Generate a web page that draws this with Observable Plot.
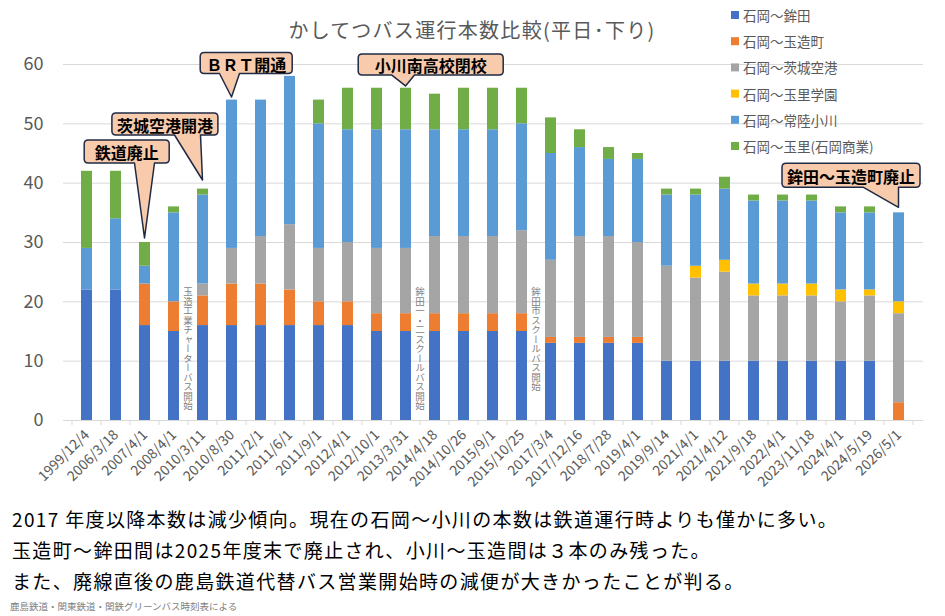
<!DOCTYPE html>
<html><head><meta charset="utf-8">
<script src="https://cdn.jsdelivr.net/npm/d3@7"></script>
<script src="https://cdn.jsdelivr.net/npm/@observablehq/plot@0.6"></script>
<style>
body{margin:0;background:#fff;font-family:"Noto Sans CJK JP","Noto Sans",sans-serif;}
#wrap{width:945px;}
#chart svg{display:block;}
#notes{padding-left:12px;margin-top:2.5px;font-size:19px;line-height:31px;color:#000;letter-spacing:1.35px;white-space:nowrap;}
#src{font-size:9.5px;line-height:12px;color:#7f7f7f;margin-left:10px;margin-top:4.5px;white-space:nowrap;}
</style></head><body>
<div id="wrap">
<div id="chart"></div>
<div id="notes">
<div>2017 年度以降本数は減少傾向。現在の石岡～小川の本数は鉄道運行時よりも僅かに多い。</div>
<div>玉造町～鉾田間は2025年度末で廃止され、小川～玉造間は３本のみ残った。</div>
<div>また、廃線直後の鹿島鉄道代替バス営業開始時の減便が大きかったことが判る。</div>
</div>
<div id="src">鹿島鉄道・関東鉄道・関鉄グリーンバス時刻表による</div>
</div>
<script>
// ---- data ----
const dates = ["1999/12/4","2006/3/18","2007/4/1","2008/4/1","2010/3/11","2010/8/30","2011/2/1","2011/6/1","2011/9/1","2012/4/1","2012/10/1","2013/3/31","2014/4/18","2014/10/26","2015/9/1","2015/10/25","2017/3/4","2017/12/16","2018/7/28","2019/4/1","2019/9/14","2021/4/1","2021/4/12","2021/9/18","2022/4/1","2023/11/18","2024/4/1","2024/5/19","2026/5/1"];
const seriesNames = ["石岡～鉾田","石岡～玉造町","石岡～茨城空港","石岡～玉里学園","石岡～常陸小川","石岡～玉里(石岡商業)"];
const seriesColors = ["#4472C4","#ED7D31","#A5A5A5","#FFC000","#5B9BD5","#70AD47"];
const hokota      = [22,22,16,15,16,16,16,16,16,16,15,15,15,15,15,15,13,13,13,13,10,10,10,10,10,10,10,10,0];
const tamatsukuri = [0,0,7,5,5,7,7,6,4,4,3,3,3,3,3,3,1,1,1,1,0,0,0,0,0,0,0,0,3];
const airport     = [0,0,0,0,2,6,8,11,9,10,11,11,13,13,13,14,13,17,17,16,16,14,15,11,11,11,10,11,15];
const gakuen      = [0,0,0,0,0,0,0,0,0,0,0,0,0,0,0,0,0,0,0,0,0,2,2,2,2,2,2,1,2];
const ogawa       = [7,12,3,15,15,25,23,25,21,19,20,20,18,18,18,18,18,15,13,14,12,12,12,14,14,14,13,13,15];
const tamari      = [13,8,4,1,1,0,0,0,4,7,7,7,6,7,7,6,6,3,2,1,1,1,2,1,1,1,1,1,0];
const yTicks = [0,10,20,30,40,50,60];
const title = "かしてつバス運行本数比較(平日･下り)";
const calloutDates  = ["2007/4/1","2010/3/11","2010/8/30","2013/3/31","2026/5/1"];
const calloutLabels = ["鉄道廃止","茨城空港開港","ＢＲＴ開通","小川南高校閉校","鉾田～玉造町廃止"];
const noteDates  = ["2010/3/11","2014/4/18","2017/3/4"];
const noteLabels = ["玉造工業チャーターバス開始","鉾田一・二スクールバス開始","鉾田市スクールバス開始"];
const noteY = 23;

// ---- build ----
const seriesValues = [hokota, tamatsukuri, airport, gakuen, ogawa, tamari];
const rows = [];
dates.forEach((d, i) => seriesNames.forEach((s, j) => rows.push({date: d, series: s, value: seriesValues[j][i]})));
const totals = dates.map((d, i) => seriesValues.reduce((a, v) => a + v[i], 0));
const notes = noteDates.map((d, i) => ({date: d, y: noteY, text: noteLabels[i]}));

const FONT = '"Noto Sans CJK JP","Noto Sans",sans-serif';
const plot = Plot.plot({
  width: 945, height: 500,
  marginTop: 64, marginBottom: 80, marginLeft: 63, marginRight: 22,
  style: {fontFamily: FONT, background: "transparent", overflow: "visible"},
  x: {domain: dates, paddingInner: 0.62, paddingOuter: 0.31, label: null},
  y: {domain: [0, 60], label: null},
  color: {domain: seriesNames, range: seriesColors},
  marks: [
    Plot.gridY(yTicks, {stroke: "#d9d9d9", strokeOpacity: 1}),
    Plot.barY(rows, {x: "date", y: "value", fill: "series", order: seriesNames}),
    Plot.axisY(yTicks, {tickSize: 0, tickPadding: 20, fontSize: 18, color: "#595959", label: null}),
    Plot.axisX({tickSize: 0, tickRotate: -45, fontSize: 14, color: "#595959", tickPadding: 12, label: null}),
    Plot.text(notes, {x: "date", y: "y", text: "text", dx: -15, fontSize: 9.5, fill: "#7f7f7f", textAnchor: "start"})
  ]
});
document.getElementById("chart").appendChild(plot);

const svg = d3.select(plot);
const sx = plot.scale("x"), sy = plot.scale("y");
const bw = sx.bandwidth, step = sx.step;

// vertical notes
svg.selectAll("text").each(function() {
  if (noteLabels.includes(this.textContent)) {
    d3.select(this).attr("writing-mode", "vertical-rl").style("writing-mode", "vertical-rl")
      .attr("dy", null).attr("text-anchor", "start").attr("dominant-baseline", "central")
      .style("letter-spacing", "0px");
  }
});

// x tick marks at band boundaries
const tickG = svg.append("g").attr("stroke", "#d9d9d9");
dates.forEach((d, i) => {
  const x0 = sx.apply(d) - (step - bw) / 2;
  tickG.append("line").attr("x1", x0).attr("x2", x0).attr("y1", sy.apply(0)).attr("y2", sy.apply(0) + 5);
  if (i === dates.length - 1) tickG.append("line").attr("x1", x0 + step).attr("x2", x0 + step).attr("y1", sy.apply(0)).attr("y2", sy.apply(0) + 5);
});

// title
svg.append("text").attr("x", 472).attr("y", 29).attr("text-anchor", "middle").attr("dominant-baseline", "central")
  .attr("font-size", 20).attr("fill", "#595959").style("letter-spacing", "1.3px").attr("font-family", FONT).text(title);

// legend
const lg = svg.append("g").attr("font-family", FONT).attr("text-anchor", "start");
seriesNames.forEach((s, i) => {
  const yy = 15 + i * 26.2;
  lg.append("rect").attr("x", 731).attr("y", yy - 4).attr("width", 8).attr("height", 8).attr("fill", seriesColors[i]);
  lg.append("text").attr("x", 743).attr("y", yy).attr("text-anchor", "start").attr("dominant-baseline", "central").attr("font-size", 13.5)
    .attr("fill", "#595959").text(s);
});

// callouts (layout offsets relative to bar top)
const calloutLayout = [
  {tipDy: -4,   cx: -17.8, cy: -90.5, w: 85,  h: 23, b0: -10, b1: 10},
  {tipDy: -8.6, cx: -37.6, cy: -64.6, w: 106, h: 22, b0: -28, b1: -2},
  {tipDy: -2.6, cx: 14.7,  cy: -36.6, w: 92,  h: 21, b0: -12, b1: 8},
  {tipDy: -1.8, cx: 25.2,  cy: -23.3, w: 145, h: 21, b0: -14, b1: 9},
  {tipDy: -5,   cx: -47.5, cy: -37,   w: 138, h: 24, b0: -35, b1: 0}
];
const cg = svg.append("g").attr("font-family", FONT);
calloutDates.forEach((d, i) => {
  const L = calloutLayout[i];
  const bx = sx.apply(d) + bw / 2, by = sy.apply(totals[dates.indexOf(d)]);
  const tx = bx, ty = by + L.tipDy;
  const cx = bx + L.cx, cy = by + L.cy;
  const l = cx - L.w / 2, r = cx + L.w / 2, t = cy - L.h / 2, b = cy + L.h / 2, rr = 4;
  const p = d3.path();
  p.moveTo(l + rr, t);
  p.lineTo(r - rr, t); p.quadraticCurveTo(r, t, r, t + rr);
  p.lineTo(r, b - rr); p.quadraticCurveTo(r, b, r - rr, b);
  p.lineTo(tx + L.b1, b); p.lineTo(tx, ty); p.lineTo(tx + L.b0, b);
  p.lineTo(l + rr, b); p.quadraticCurveTo(l, b, l, b - rr);
  p.lineTo(l, t + rr); p.quadraticCurveTo(l, t, l + rr, t);
  p.closePath();
  cg.append("path").attr("d", p.toString()).attr("fill", "#F8CBAD").attr("stroke", "#1F2A44").attr("stroke-width", 1.5).attr("stroke-linejoin", "round");
  cg.append("text").attr("x", cx).attr("y", cy + 0.5).attr("text-anchor", "middle").attr("dominant-baseline", "central")
    .attr("font-size", 16).attr("font-weight", 700).attr("fill", "#000").text(calloutLabels[i]);
});
</script>
</body></html>
